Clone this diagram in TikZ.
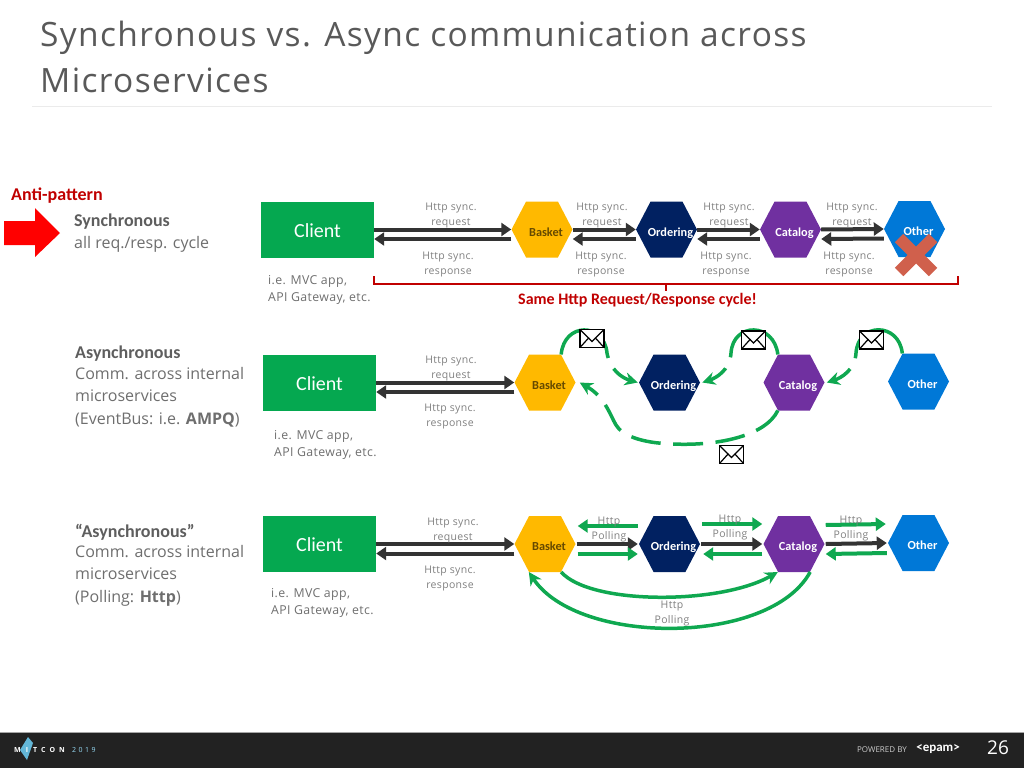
\documentclass[tikz,border=0pt]{standalone}
\usepackage{fontspec}
\setmainfont{Open Sans}
\newfontfamily\titlefont[LetterSpace=4]{Open Sans}
\newfontfamily\lblfont[LetterSpace=3]{Open Sans}
\newfontfamily\boxfont{Carlito}
\usetikzlibrary{arrows.meta,shapes.symbols}

\definecolor{clientgreen}{HTML}{05A850}
\definecolor{basketcol}{HTML}{FFB900}
\definecolor{orderingcol}{HTML}{012161}
\definecolor{catalogcol}{HTML}{7030A0}
\definecolor{othercol}{HTML}{0078D7}
\definecolor{msggreen}{HTML}{0FA850}
\definecolor{darkred}{HTML}{C00000}
\definecolor{crosscol}{HTML}{D0604C}
\definecolor{txtgray}{HTML}{6E6E6E}
\definecolor{barcol}{HTML}{222222}

% text of a hexagon, a little right of its middle
\newcommand{\hexlbl}[1]{\hspace*{8pt}\makebox[0pt]{#1}}

\tikzset{
    clientbox/.style={fill=clientgreen, minimum width=113pt, minimum height=56pt, inner sep=0pt,
        text=white, text height=16pt, text depth=0.4pt, font=\boxfont\fontsize{20}{22}\selectfont},
    hexbox/.style={signal, signal to=east and west, signal pointer angle=125, minimum width=61pt,
        minimum height=56pt, inner sep=0pt, text=white, text height=14pt, text depth=1pt,
        font=\boxfont\bfseries\fontsize{12.3}{15}\selectfont},
    lbl/.style={align=center, inner sep=0pt, text=gray, font=\lblfont\fontsize{10.5}{15}\selectfont},
    note/.style={align=left, anchor=west, inner sep=0pt, text=txtgray, font=\lblfont\fontsize{12.3}{17}\selectfont},
    headtxt/.style={anchor=west, inner sep=0pt, text=txtgray!85!black, font=\boxfont\bfseries\fontsize{18}{22}\selectfont},
    bodytxt/.style={align=left, anchor=north west, inner sep=0pt, text=txtgray, font=\fontsize{16}{22.5}\selectfont},
    redtxt/.style={inner sep=0pt, text=darkred, font=\boxfont\bfseries\fontsize{18}{22}\selectfont},
    syncarrow/.style={draw=black!80, line width=4pt, -{Triangle[length=10pt,width=13pt]}},
    pollarrow/.style={draw=msggreen, line width=4pt, -{Triangle[length=10pt,width=13pt]}},
    msgarrow/.style={draw=msggreen, line width=3.5pt, -{Stealth[length=13pt,width=13pt]}, dash pattern=on 78pt off 12pt},
    longmsgarrow/.style={msgarrow, dash pattern=on 30pt off 12.5pt},
    curvearrow/.style={draw=msggreen, line width=3.5pt, -{Stealth[length=13pt,width=13pt]}},
    envelope/.pic={
        \draw[fill=white, line width=1.5pt] (-12,-9) rectangle (12,9);
        \draw[line width=1.2pt] (-12,-9) -- (0,3) -- (12,-9) (-12,9) -- (-3,-1) (12,9) -- (3,-1);
    }
}

\begin{document}
\begin{tikzpicture}[x=1pt, y=-1pt]
\useasboundingbox (0,0) rectangle (1024,768);

% --- Title ---
\node[anchor=base west, inner sep=0pt, text=black!65, font=\titlefont\fontsize{33.5}{38}\selectfont] (titleA) at (40,47)
    {Synchronous vs. Async communication across};
\node[anchor=base west, inner sep=0pt, text=black!65, font=\titlefont\fontsize{33.5}{38}\selectfont] (titleB) at (40,92)
    {Microservices};
\fill[black!8] (32,105.5) rectangle (992,107);

% --- Clients ---
\foreach \row/\x/\y in {A/317.5/229.5, B/319.5/382.5, C/319.5/544} {
    \node[clientbox] (client\row) at (\x,\y) {Client};
}

% --- Hexagons, one row after the other ---
\foreach \row/\y/\yy/\xa/\xb/\xc/\xd in {A/229.5/229/542/666.5/790.5/914.5, B/382.5/381.5/545/669.5/794/918.5, C/544/543/545/669.5/794/918.5} {
    \node[hexbox, fill=basketcol, text=black!60!basketcol] (basket\row) at (\xa,\y) {\hexlbl{Basket}};
    \node[hexbox, fill=orderingcol] (ordering\row) at (\xb,\y) {\hexlbl{Ordering}};
    \node[hexbox, fill=catalogcol] (catalog\row) at (\xc,\y) {\hexlbl{Catalog}};
    \node[hexbox, fill=othercol] (other\row) at (\xd,\yy) {\hexlbl{Other}};
}

% --- Synchronous arrows ---
\foreach \from/\to in {clientA/basketA, basketA/orderingA, orderingA/catalogA, catalogA/otherA, clientB/basketB} {
    \draw[syncarrow] (\from.east) -- (\to.west);
    \draw[syncarrow] ([yshift=-9.5pt]\to.west) -- ([yshift=-9.5pt]\from.east);
}
\draw[syncarrow] (clientC.east) -- (basketC.west);
\draw[syncarrow] ([yshift=-9.5pt]basketC.west) -- ([yshift=-9.5pt]clientC.east);
\foreach \from/\to in {basketC/orderingC, orderingC/catalogC, catalogC/otherC} {
    \draw[syncarrow] ([xshift=1pt]\from.east) -- ([xshift=-1pt]\to.west);
}

% --- Polling arrows ---
\draw[pollarrow] ([xshift=-1pt,yshift=18pt]orderingC.west) -- ([xshift=2pt,yshift=18pt]basketC.east);
\draw[pollarrow] ([xshift=2pt,yshift=-10pt]basketC.east) -- ([xshift=-1pt,yshift=-10pt]orderingC.west);
\draw[pollarrow] ([xshift=2pt,yshift=20pt]orderingC.east) -- ([xshift=-1pt,yshift=20pt]catalogC.west);
\draw[pollarrow] ([xshift=-1pt,yshift=-10pt]catalogC.west) -- ([xshift=3pt,yshift=-10pt]orderingC.east);
\draw[pollarrow] ([xshift=1pt,yshift=19pt]catalogC.east) -- ([xshift=-2pt,yshift=19pt]otherC.west);
\draw[pollarrow] ([xshift=-1pt,yshift=-10pt]otherC.west) -- ([xshift=1pt,yshift=-10pt]catalogC.east);
\draw[curvearrow] (basketC.300) .. controls (590,605) and (720,605) .. (catalogC.240);
\draw[curvearrow] (catalogC.300) .. controls (770,646) and (578,646) .. (basketC.240);

% --- Event bus messages ---
\draw[msgarrow] (basketB.60) .. controls (564,322) and (604,322) .. (607,353)
    .. controls (610,370) and (622,378) .. ([xshift=-1pt]orderingB.west);
\draw[msgarrow] (catalogB.120) .. controls (774,322) and (733,322) .. (731,353)
    .. controls (730,370) and (716,378) .. ([xshift=2pt]orderingB.east);
\draw[msgarrow] (otherB.120) .. controls (899,322) and (858,322) .. (856,353)
    .. controls (855,370) and (841,378) .. ([xshift=2pt]catalogB.east);
\draw[longmsgarrow] (catalogB.240) .. controls (765,437) and (715,446) .. (673,444)
    .. controls (640,443) and (622,435) .. (616,425)
    .. controls (610,415) and (605,397) .. ([xshift=4pt]basketB.east);
\foreach \x/\y in {592/338.5, 753.5/340, 871.5/340, 731.5/454.5} {
    \pic at (\x,\y) {envelope};
}

% --- Labels of the arrows ---
\foreach \x/\y in {451/216, 602/216, 729/216, 852/216, 451/369, 453/530.5} {
    \node[lbl] (req\x) at (\x,\y) {Http sync.\\request};
}
\foreach \x/\y in {448/264.5, 601/264.5, 726/264.5, 849/264.5, 450/417, 450/578.5} {
    \node[lbl] (resp\x) at (\x,\y) {Http sync.\\response};
}
\foreach \x/\y in {609/530, 730/528, 851/529, 672/614} {
    \node[lbl] (poll\x) at (\x,\y) {Http\\Polling};
}
\foreach \x/\y in {268/289.5, 274/444.5, 271/602.5} {
    \node[note] (ie\x) at (\x,\y) {i.e. MVC app,\\API Gateway, etc.};
}

% --- Same cycle bracket and the cross ---
\coordinate (brA) at (374,276);
\coordinate (brB) at (958,276);
\draw[darkred, line width=1.5pt] (brA) -- ++(0,8) -- ([yshift=-8pt]brB) -- (brB);
\draw[darkred, line width=1.5pt] (666,284) -- (666,291);
\node[redtxt, font=\boxfont\bfseries\fontsize{16}{20}\selectfont] (sameTxt) at (637.5,300.5) {Same Http Request/Response cycle!};
\draw[line width=12pt, draw=crosscol] (899,238) -- (933,272) (933,238) -- (899,272);

% --- Texts on the left ---
\node[redtxt, anchor=west] (antiTxt) at (11,196) {Anti-pattern};
\fill[red] (4,221) -- (35,221) -- (35,208) -- (60,233) -- (35,257) -- (35,245) -- (4,245) -- cycle;
\node[headtxt] (syncHead) at (74,222) {Synchronous};
\node[bodytxt] (syncBody) at (74,236) {all req./resp. cycle};
\node[headtxt] (asyncHead) at (75,354) {Asynchronous};
\node[bodytxt] (asyncBody) at (75,367) {Comm. across internal\\microservices\\(EventBus: i.e. \textbf{AMPQ})};
\node[headtxt] (pollHead) at (75,532) {“Asynchronous”};
\node[bodytxt] (pollBody) at (75,545) {Comm. across internal\\microservices\\(Polling: \textbf{Http})};

% --- Footer ---
\fill[barcol] (0,732) rectangle (1024,768);
\fill[black!35] (0,731.5) rectangle (1024,732.5);
\fill[cyan!60!teal!70!white] (28,737) -- (33,743) -- (27,760) -- (20,750) -- cycle;
\node[anchor=west, inner sep=0pt, text=white, font=\bfseries\fontsize{7}{8}\selectfont] (confTxt) at (14,749.5) {M\hspace{5pt}I\hspace{5pt}T\hspace{4pt}C\hspace{4pt}O\hspace{4pt}N};
\node[anchor=west, inner sep=0pt, text=cyan!40!white, font=\fontsize{7}{8}\selectfont] (yearTxt) at (72,749.5) {2\hspace{2.5pt}0\hspace{2.5pt}1\hspace{2.5pt}9};
\node[inner sep=0pt, text=white!80!black, font=\fontsize{8}{9}\selectfont] (poweredTxt) at (882,749.5) {POWERED BY};
\node[inner sep=0pt, text=white, font=\boxfont\bfseries\fontsize{13}{15}\selectfont] (epamTxt) at (938,749) {<epam>};
\node[inner sep=0pt, text=white, font=\fontsize{19}{22}\selectfont] (pageNum) at (998,748) {26};

\end{tikzpicture}
\end{document}
